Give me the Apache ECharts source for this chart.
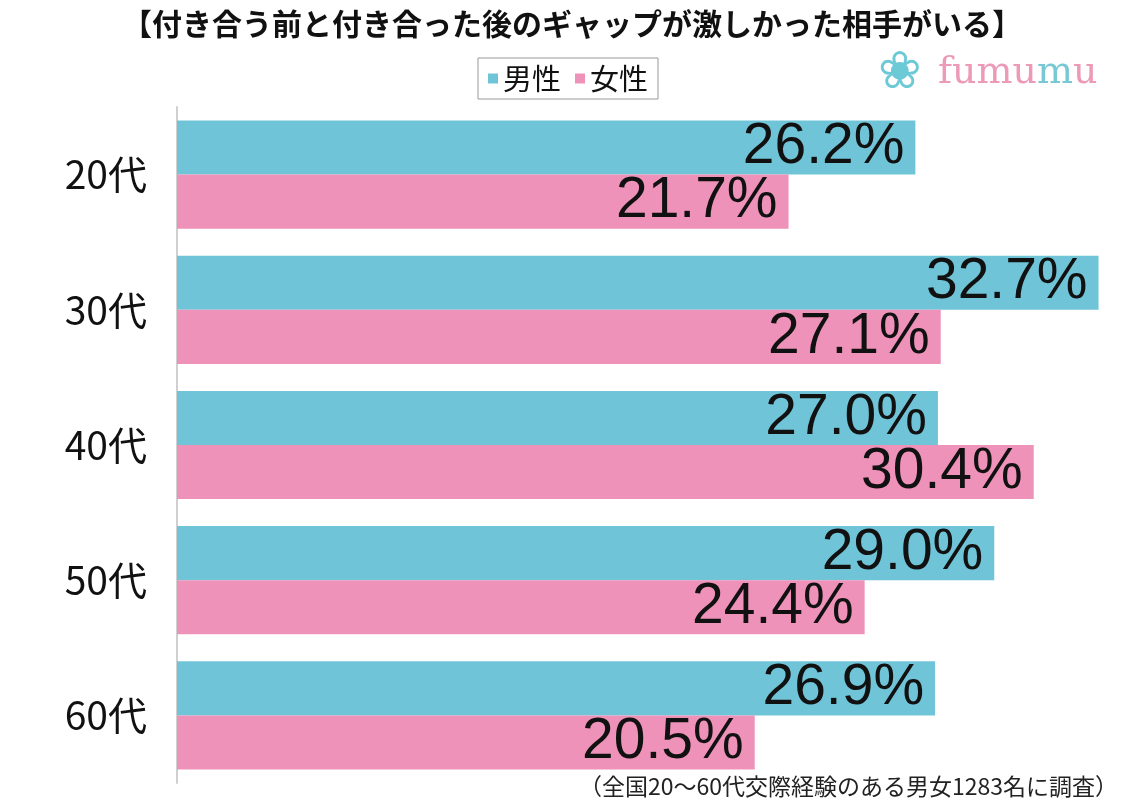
<!DOCTYPE html>
<html>
<head>
<meta charset="utf-8">
<script src="https://cdn.jsdelivr.net/npm/echarts@6/dist/echarts.min.js"></script>
<style>
    html, body { margin: 0; padding: 0; background: #fff; }
    #chart { width: 1144px; height: 800px; }
</style>
</head>
<body>
<div id="chart"></div>
<script>
// 年代
const ageGroups = ["20代", "30代", "40代", "50代", "60代"];
// 男性 / 女性 (%)
const maleValues = [26.2, 32.7, 27.0, 29.0, 26.9];
const femaleValues = [21.7, 27.1, 30.4, 24.4, 20.5];
const seriesNames = ["男性", "女性"];

const titleText = "【付き合う前と付き合った後のギャップが激しかった相手がいる】";
const noteText = "（全国20～60代交際経験のある男女1283名に調査）";

const BLUE = "#70c4d8";
const PINK = "#ee92b9";
const JP_FONT = "'Noto Sans CJK JP', 'Liberation Sans', sans-serif";

const chart = echarts.init(document.getElementById("chart"));

const barLabel = {
    show: true,
    position: "insideRight",
    distance: 11,
    color: "#111",
    fontSize: 57,
    fontFamily: "'Liberation Sans', Arial, sans-serif",
    formatter: (p) => p.value.toFixed(1) + "%",
};

const option = {
    backgroundColor: "#fff",
    animation: false,
    title: {
        text: titleText,
        left: "center",
        top: 4,
        textStyle: { fontFamily: JP_FONT, fontSize: 30, fontWeight: "bold", color: "#111" },
    },
    legend: {
        data: seriesNames,
        left: 478,
        top: 58,
        icon: "rect",
        itemWidth: 10,
        itemHeight: 10,
        itemGap: 14,
        padding: [6, 10, 6, 10],
        borderColor: "#999",
        borderWidth: 1,
        textStyle: { fontFamily: JP_FONT, fontSize: 29, color: "#111" },
    },
    grid: {
        left: 177,
        right: 37,
        top: 107,
        bottom: 17,
    },
    xAxis: {
        type: "value",
        min: 0,
        max: 33,
        show: false,
    },
    yAxis: {
        type: "category",
        data: ageGroups,
        inverse: true,
        axisLine: { show: true, lineStyle: { color: "#d0d0d0", width: 2 } },
        axisTick: { show: false },
        axisLabel: {
            color: "#111",
            fontSize: 39,
            fontFamily: JP_FONT,
            margin: 30,
        },
    },
    series: [
        {
            name: seriesNames[0],
            type: "bar",
            data: maleValues,
            barGap: "0%",
            barCategoryGap: "20%",
            itemStyle: { color: BLUE },
            label: barLabel,
        },
        {
            name: seriesNames[1],
            type: "bar",
            data: femaleValues,
            barGap: "0%",
            barCategoryGap: "20%",
            itemStyle: { color: PINK },
            label: barLabel,
        },
    ],
    graphic: [
        {
            type: "text",
            right: 26,
            bottom: 2,
            style: { text: noteText, font: "23px " + JP_FONT, fill: "#222" },
        },
        {
            type: "text",
            left: 878,
            top: 48,
            style: { text: "❀", font: "52px 'DejaVu Sans'", fill: "#6ccad6" },
        },
        {
            type: "text",
            left: 938,
            top: 54,
            style: {
                text: "{p|fumu}{b|m}{p|u}",
                rich: {
                    p: { font: "38px 'DejaVu Serif', 'Liberation Serif', serif", fill: "#ec9ab8" },
                    b: { font: "38px 'DejaVu Serif', 'Liberation Serif', serif", fill: "#78c9d4" },
                },
            },
        },
    ],
};

chart.setOption(option);
</script>
</body>
</html>
